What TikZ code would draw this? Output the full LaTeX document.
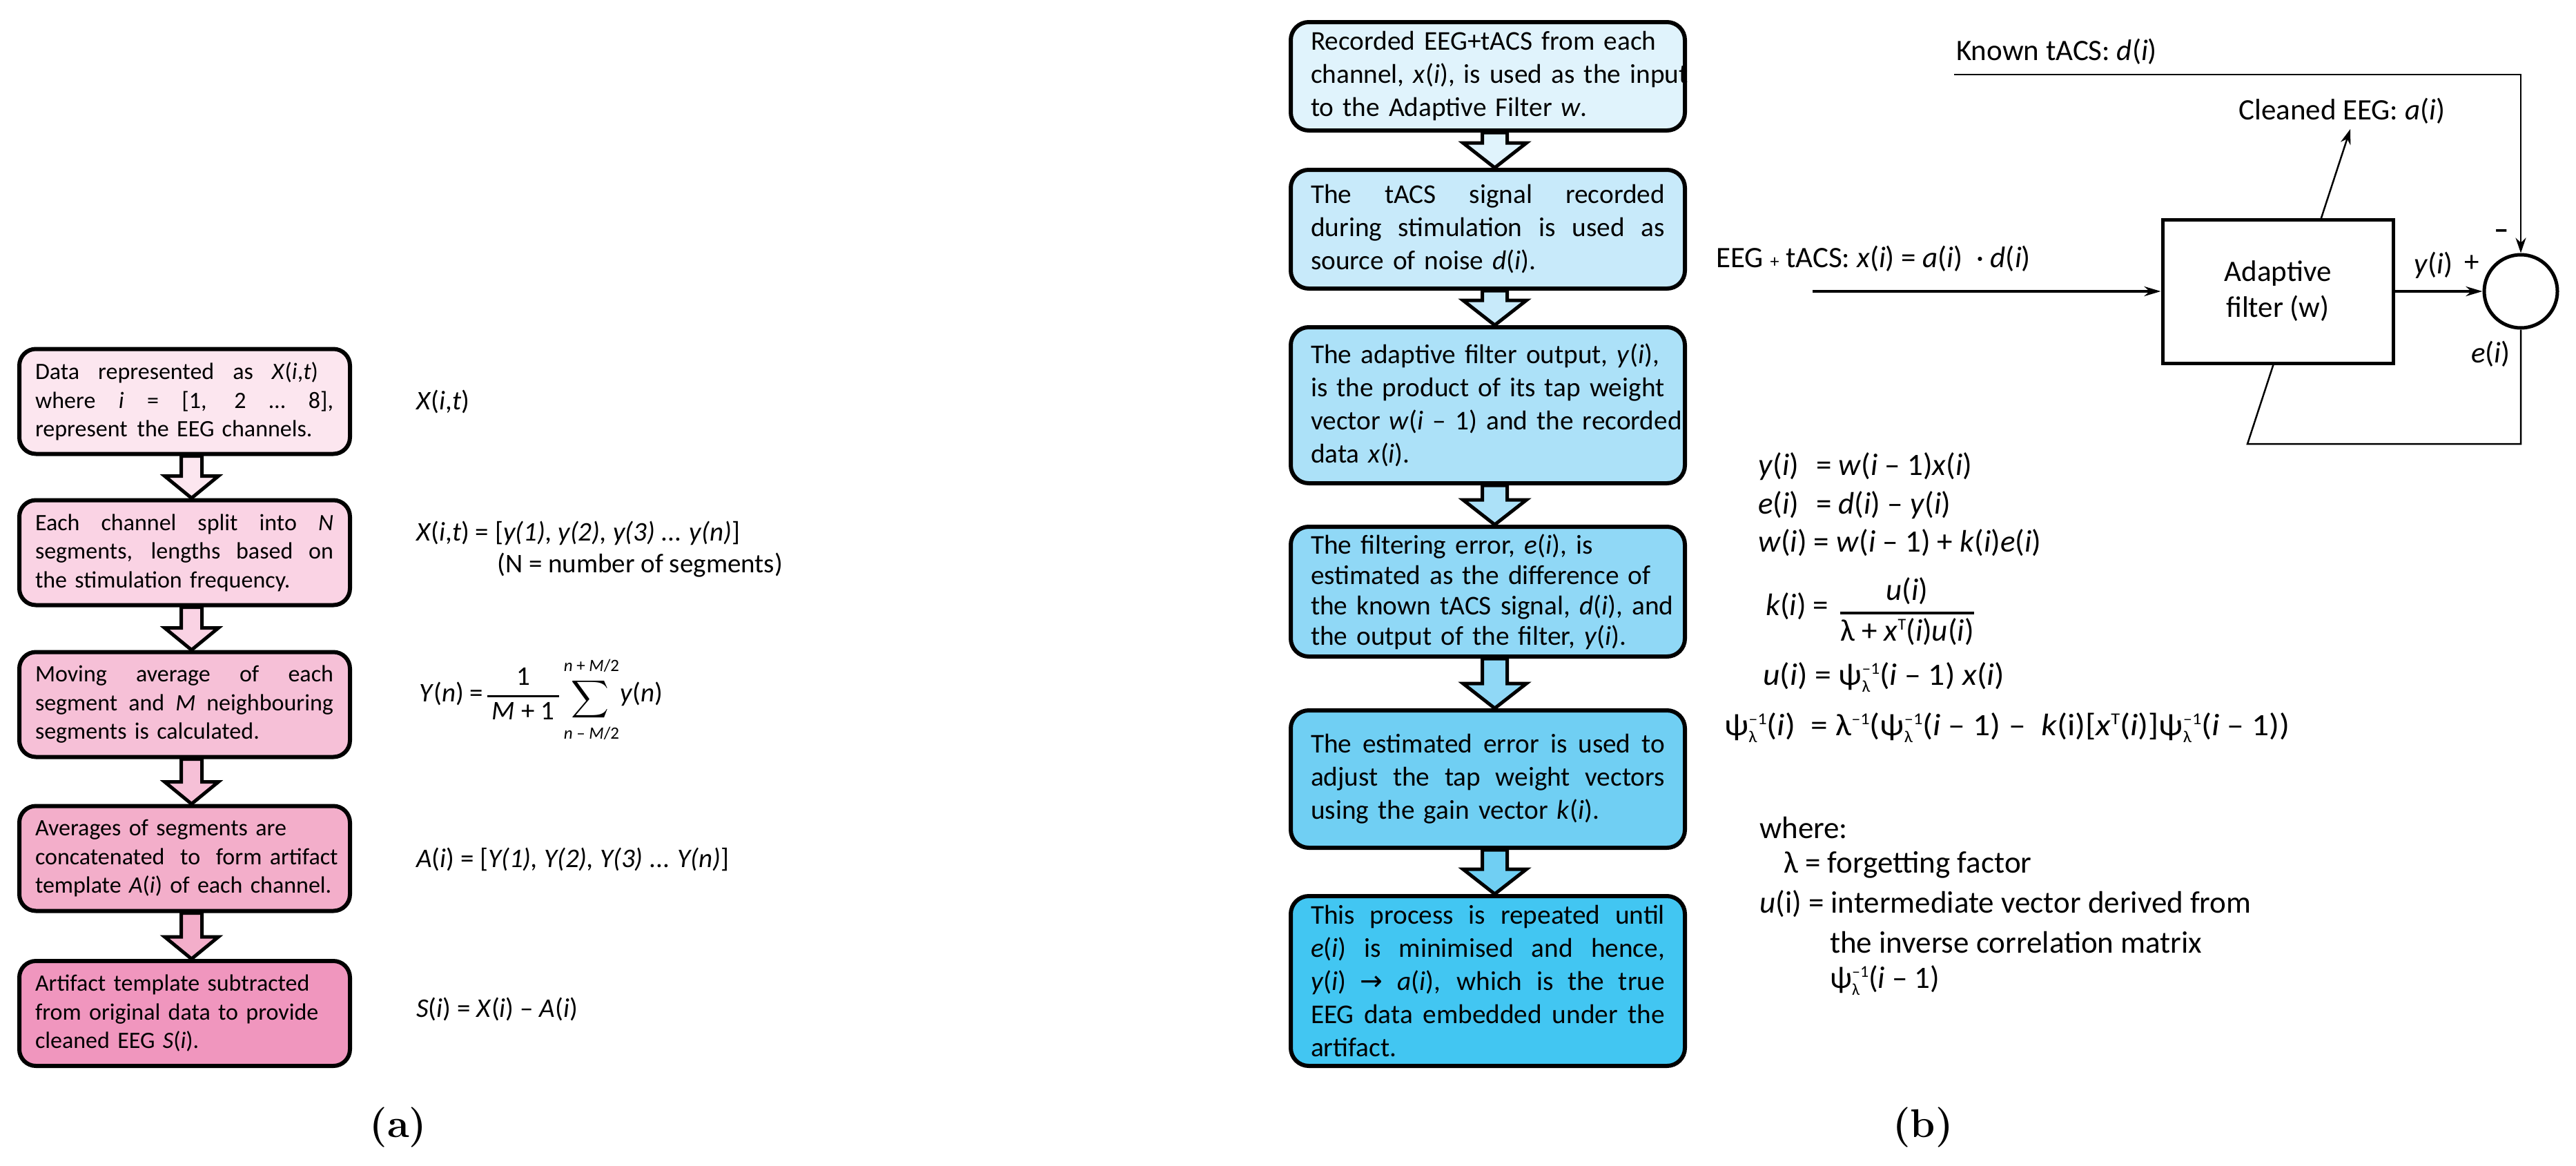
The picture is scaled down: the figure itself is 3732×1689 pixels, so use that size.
\documentclass[tikz,border=0pt]{standalone}
\usepackage{fontspec}
\usepackage{graphicx}
\usetikzlibrary{arrows.meta,calc}
\newfontfamily\calib{Carlito}
\newfontfamily\djv{DejaVu Sans}
\definecolor{pa1}{HTML}{FCE6EF}
\definecolor{pa2}{HTML}{FAD3E4}
\definecolor{pa3}{HTML}{F6C0D7}
\definecolor{pa4}{HTML}{F3AECA}
\definecolor{pa5}{HTML}{F096BE}
\definecolor{bl1}{HTML}{E0F3FC}
\definecolor{bl2}{HTML}{C8EAFA}
\definecolor{bl3}{HTML}{ACE1F8}
\definecolor{bl4}{HTML}{90D8F6}
\definecolor{bl5}{HTML}{70CFF3}
\definecolor{bl6}{HTML}{42C6F2}
\newcommand{\myi}{\textit{i}}
\newcommand{\stk}[2]{\makebox[0pt][l]{\raisebox{-10pt}{\fontsize{24}{24}\selectfont #1}}\raisebox{16pt}{\fontsize{24}{24}\selectfont #2}}
\newcommand{\supx}[1]{\raisebox{16pt}{\fontsize{24}{24}\selectfont #1}}
\newcommand{\psiinv}{ψ\stk{λ}{–1}}
\newcommand{\jl}[2]{{\spaceskip=\fontdimen2\font plus 1fil\relax\xspaceskip=\spaceskip\makebox[#1pt][s]{#2}}}
\newcommand{\blockarrow}[6]{%
 \path[draw=black,line width=5pt,fill=#3,line join=miter] let \p1=(#1.south), \p2=(#2.north) in
 ({\x1+10pt-#4pt},{\y1}) -- ({\x1+10pt-#4pt},{\y2+#6pt}) -- ({\x1+10pt-#5pt},{\y2+#6pt}) -- ({\x1+10pt},{\y2}) -- ({\x1+10pt+#5pt},{\y2+#6pt}) -- ({\x1+10pt+#4pt},{\y2+#6pt}) -- ({\x1+10pt+#4pt},{\y1}) -- cycle;}
\tikzset{
 abox/.style={draw=black, line width=6pt, rounded corners=24pt, minimum width=479pt, minimum height=152pt, text width=433pt, inner xsep=23pt, inner ysep=0pt, align=left, font=\calib\fontsize{34}{41.5}\selectfont},
 bbox/.style={draw=black, line width=6pt, rounded corners=26pt, minimum width=571pt, text width=513pt, inner xsep=29pt, inner ysep=0pt, align=left, font=\calib\fontsize{39.3}{48}\selectfont},
 eqa/.style={anchor=west, inner sep=0pt, font=\calib\fontsize{39}{47}\selectfont},
 eqb/.style={anchor=west, inner sep=0pt, font=\calib\fontsize{45}{55}\selectfont},
 lab/.style={inner sep=0pt, font=\calib\fontsize{43}{52}\selectfont},
 thinwire/.style={line width=2.5pt},
 thickwire/.style={line width=4.5pt},
 tipa/.style={-{Stealth[length=24pt,width=14pt]}},
 tipb/.style={-{Stealth[length=22pt,width=15pt]}},
 panellab/.style={inner sep=0pt, font=\fontsize{58}{60}\selectfont\bfseries}
}
\begin{document}
\begin{tikzpicture}[x=1pt,y=-1pt]
\fill[white] (0,0) rectangle (3732,1689);
\useasboundingbox (0,0) rectangle (3732,1689);

% ---------- panel (a) ----------
\node[abox, fill=pa1] (a1) at (267.5,581.5) {\jl{410}{Data represented as \textit{X}(\myi,\textit{t})}\\\jl{432}{where \myi{} = [1, 2 … 8],}\\\mbox{represent\hspace{14pt}the EEG channels.}};
\node[abox, fill=pa2] (a2) at (267.5,800.5) {\jl{432}{Each channel split into \textit{N}}\\\jl{432}{segments, lengths based on}\\\mbox{the stimulation frequency.}};
\node[abox, fill=pa3] (a3) at (267.5,1020.5) {\jl{432}{Moving average of each}\\\jl{432}{segment and \textit{M} neighbouring}\\\mbox{segments is calculated.}};
\node[abox, fill=pa4] (a4) at (267.5,1243.5) {\mbox{Averages of segments are}\\\mbox{concatenated\ \ to\ \ form artifact}\\\mbox{template \textit{A}(\myi) of each channel.}};
\node[abox, fill=pa5] (a5) at (267.5,1468) {\mbox{Artifact template subtracted}\\\mbox{from original data to provide}\\\mbox{cleaned EEG \textit{S}(\myi).}};
\blockarrow{a1}{a2}{pa1}{15}{39}{32}
\blockarrow{a2}{a3}{pa2}{15}{39}{32}
\blockarrow{a3}{a4}{pa3}{15}{39}{32}
\blockarrow{a4}{a5}{pa4}{15}{39}{32}

\node[eqa] (fa1) at (603,582) {\textit{X}(\myi,\textit{t})};
\node[eqa] (fa2) at (603,772) {\textit{X}(\myi,\textit{t}) = [\textit{y(1), y(2), y(3)} ... \textit{y(n)}]};
\node[eqa] (fa2b) at (720,819) {(N = number of segments)};
\node[eqa] (fa3) at (607,1005) {\textit{Y}(\textit{n}) =};
\node[inner sep=0pt, font=\calib\fontsize{39}{47}\selectfont] (fa3f) at (758,1008) {\setlength{\arrayrulewidth}{3pt}\begin{tabular}{@{\,}c@{\,}}1\\\hline \textit{M} + 1\end{tabular}};
\node[inner sep=0pt] (fa3s) at (855,1013) {\scalebox{3.8}{$\displaystyle\sum$}};
\node[inner sep=0pt, font=\calib\fontsize{25}{30}\selectfont] (fa3u) at (857,964) {\textit{n} + \textit{M}/2};
\node[inner sep=0pt, font=\calib\fontsize{25}{30}\selectfont] (fa3l) at (857,1062) {\textit{n} – \textit{M}/2};
\node[eqa] (fa3y) at (898,1005) {\textit{y}(\textit{n})};
\node[eqa] (fa4) at (603,1245) {\textit{A}(\myi) = [\textit{Y(1), Y(2), Y(3)} ... \textit{Y(n)}]};
\node[eqa] (fa5) at (603,1462) {\textit{S}(\myi) = \textit{X}(\myi) – \textit{A}(\myi)};

\node[panellab] (la) at (577,1633) {(a)};

% ---------- panel (b) ----------
\node[bbox, fill=bl1, minimum height=157pt] (b1) at (2155.5,110.5) {\mbox{Recorded EEG+tACS from each}\\\mbox{channel, \textit{x}(\myi), is used as the input}\\\mbox{to the Adaptive Filter \textit{w}.}};
\node[bbox, fill=bl2, minimum height=172pt] (b2) at (2155.5,332) {\jl{513}{The tACS signal recorded}\\\jl{513}{during stimulation is used as}\\\mbox{source of noise \textit{d}(\myi).}};
\node[bbox, fill=bl3, minimum height=226pt] (b3) at (2155.5,587) {\mbox{The adaptive filter output, \textit{y}(\myi),}\\\mbox{is the product of its tap weight}\\\mbox{vector \textit{w}(\myi{} – 1) and the recorded}\\\mbox{data \textit{x}(\myi).}};
\node[bbox, fill=bl4, minimum height=188pt, font=\calib\fontsize{39.3}{44}\selectfont] (b4) at (2155.5,857) {\mbox{The filtering error, \textit{e}(\myi), is}\\\mbox{estimated as the difference of}\\\mbox{the known tACS signal, \textit{d}(\myi), and}\\\mbox{the output of the filter, \textit{y}(\myi).}};
\node[bbox, fill=bl5, minimum height=199pt] (b5) at (2155.5,1128.5) {\jl{513}{The estimated error is used to}\\\jl{513}{adjust the tap weight vectors}\\\mbox{using the gain vector \textit{k}(\myi).}};
\node[bbox, fill=bl6, minimum height=246pt] (b6) at (2155.5,1421) {\jl{513}{This process is repeated until}\\\jl{513}{\textit{e}(\myi) is minimised and hence,}\\\jl{513}{\textit{y}(\myi) {\djv →} \textit{a}(\myi), which is the true}\\\jl{513}{EEG data embedded under the}\\\mbox{artifact.}};
\blockarrow{b1}{b2}{bl1}{18}{46}{36}
\blockarrow{b2}{b3}{bl2}{18}{46}{36}
\blockarrow{b3}{b4}{bl3}{18}{46}{36}
\blockarrow{b4}{b5}{bl4}{18}{46}{36}
\blockarrow{b5}{b6}{bl5}{18}{46}{36}

% equations (b)
\node[eqb] (q1) at (2547,676) {\makebox[84pt][l]{\textit{y}(\myi)}= \textit{w}(\myi{} – 1)\textit{x}(\myi)};
\node[eqb] (q2) at (2547,732) {\makebox[84pt][l]{\textit{e}(\myi)}= \textit{d}(\myi) – \textit{y}(\myi)};
\node[eqb] (q3) at (2547,786) {\textit{w}(\myi) = \textit{w}(\myi{} – 1) + \textit{k}(\myi)\textit{e}(\myi)};
\node[eqb] (q4) at (2558,878) {\textit{k}(\myi) =};
\node[inner sep=0pt, font=\calib\fontsize{45}{55}\selectfont] (q4f) at (2763,888) {\setlength{\arrayrulewidth}{3.5pt}\begin{tabular}{@{}c@{}}\textit{u}(\myi)\\\hline λ + \textit{x}\supx{T}(\myi)\textit{u}(\myi)\end{tabular}};
\node[eqb] (q5) at (2554,981) {\scalebox{1.06}[1]{\textit{u}(\myi) = \psiinv(\myi{} – 1) \textit{x}(\myi)}};
\node[eqb] (q6) at (2498,1054) {\scalebox{1.1}[1]{\psiinv(\myi)\ \ = λ\supx{–1}(\psiinv(\myi{} – 1) –\ \ \textit{k}(i)[\textit{x}\supx{T}(\myi)]\psiinv(\myi{} – 1))}};
\node[eqb] (wh) at (2549,1199) {where:};
\node[eqb] (w1) at (2584,1253) {λ = forgetting factor};
\node[eqb] (w2) at (2549,1309) {\textit{u}(i) = intermediate vector derived from};
\node[eqb] (w3) at (2651,1365) {the inverse correlation matrix};
\node[eqb] (w4) at (2651,1420) {\psiinv(\myi{} – 1)};

\node[panellab] (lb) at (2786,1633) {(b)};

% ---------- adaptive filter diagram ----------
\node[circle, draw=black, line width=5pt, minimum size=106pt, inner sep=0pt] (sum) at (3652,422) {};
\coordinate (fb1) at (3652,643);
\coordinate (fb2) at (3256,643);
\coordinate (ce) at (3405,187);
\draw[thinwire, tipb] (sum.south) -- (fb1) -- (fb2) -- (ce);
\node[draw=black, line width=5pt, fill=white, minimum width=334pt, minimum height=208pt, align=center, font=\calib\fontsize{43}{52}\selectfont] (af) at (3300,422) {Adaptive\\filter (w)};
\coordinate (in) at (2626,422);
\draw[thickwire, tipa] (in) -- (af.west);
\draw[thickwire, tipa] (af.east) -- (sum.west);
\coordinate (kt) at (2831,108);
\coordinate (ktc) at (3652,108);
\draw[thinwire, tipb] (kt) -- (ktc) -- (sum.north);

\node[lab, anchor=west] (kl) at (2834,75) {Known tACS: \textit{d}(\myi)};
\node[lab, anchor=west] (cl) at (3243,161) {Cleaned EEG: \textit{a}(\myi)};
\node[lab, anchor=west] (il) at (2486,375) {EEG {\fontsize{26}{26}\selectfont +} tACS: \textit{x}(\myi) = \textit{a}(\myi)\ \ · \textit{d}(\myi)};
\node[lab, anchor=west] (yl) at (3497,384) {\textit{y}(\myi)};
\node[lab] (pl) at (3581,382) {+};
\node[lab] (ml) at (3624,339) {\bfseries –};
\node[lab, anchor=west] (el) at (3580,513) {\textit{e}(\myi)};
\end{tikzpicture}
\end{document}
